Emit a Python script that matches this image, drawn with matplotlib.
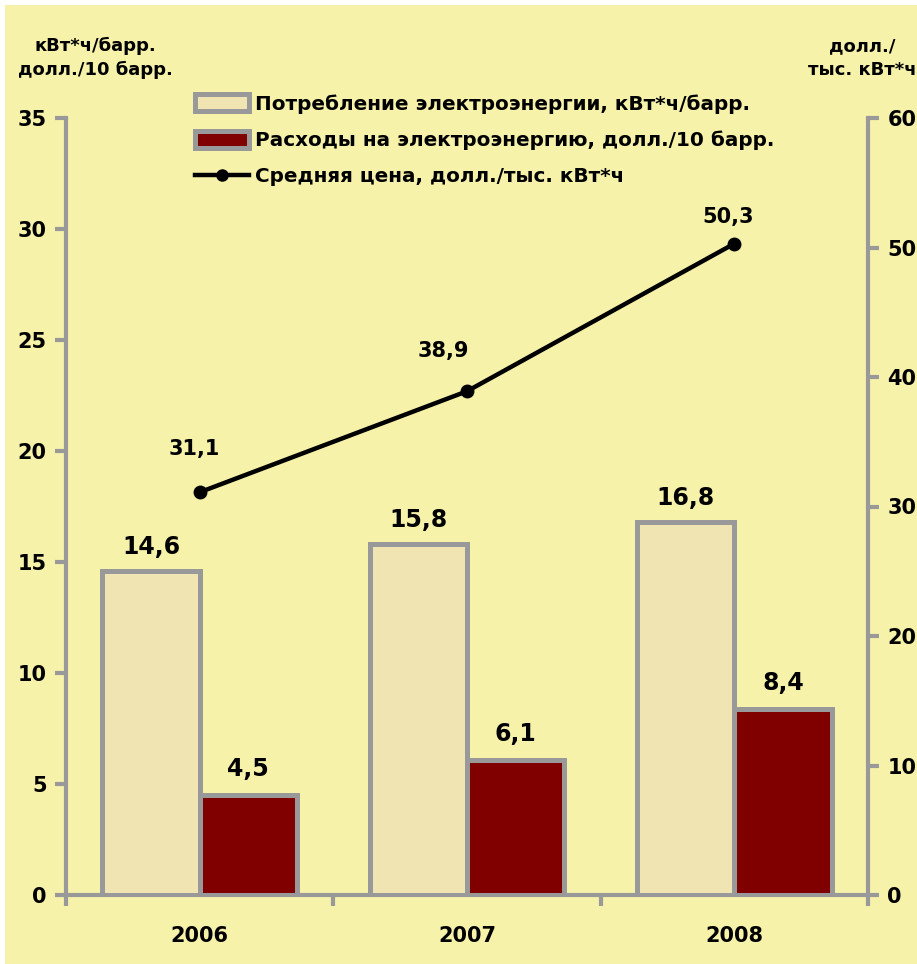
import numpy as np
import matplotlib
matplotlib.use('Agg')
import matplotlib.pyplot as plt
from matplotlib.patches import Rectangle, Patch
from matplotlib.lines import Line2D

years = ['2006', '2007', '2008']
consumption = [14.6, 15.8, 16.8]   # кВт*ч/барр.
costs = [4.5, 6.1, 8.4]            # долл./10 барр.
price = [31.1, 38.9, 50.3]         # долл./тыс. кВт*ч

consumption_labels = ['14,6', '15,8', '16,8']
costs_labels = ['4,5', '6,1', '8,4']
price_labels = ['31,1', '38,9', '50,3']

bg = '#F7F2AA'
beige = '#F0E4B2'
darkred = '#800000'
grey = '#999999'

plt.rcParams['font.family'] = ['DejaVu Sans']
plt.rcParams['font.weight'] = 'bold'

fig = plt.figure(figsize=(9.17, 9.64), dpi=100)
fig.patch.set_facecolor(bg)
# thin white strip at top and left like the original screenshot
fig.patches.append(Rectangle((0, 1 - 5 / 964), 1, 5 / 964, transform=fig.transFigure,
                             facecolor='white', edgecolor='none', zorder=-1))
fig.patches.append(Rectangle((0, 0), 5 / 917, 1, transform=fig.transFigure,
                             facecolor='white', edgecolor='none', zorder=-1))

ax = fig.add_axes([66 / 917, 69 / 964, 802 / 917, 777 / 964])
ax.set_facecolor('none')
ax2 = ax.twinx()
ax2.set_facecolor('none')

x = np.arange(len(years))
w = 0.364
ax.bar(x - w / 2, consumption, w, color=beige, edgecolor=grey, linewidth=3.6, zorder=3)
ax.bar(x + w / 2, costs, w, color=darkred, edgecolor=grey, linewidth=3.6, zorder=3)

for i in range(len(years)):
    ax.annotate(consumption_labels[i], (x[i] - w / 2, consumption[i]), xytext=(0, 24),
                textcoords='offset pixels', ha='center', va='center', fontsize=17, fontweight='bold')
    ax.annotate(costs_labels[i], (x[i] + w / 2, costs[i]), xytext=(0, 26),
                textcoords='offset pixels', ha='center', va='center', fontsize=17, fontweight='bold')

ax2.plot(x, price, color='black', linewidth=3.2, marker='o', markersize=9, zorder=5)
offsets = [(-5, 43), (-24, 40), (-6, 27)]
for i in range(len(years)):
    ax2.annotate(price_labels[i], (x[i], price[i]), xytext=offsets[i],
                 textcoords='offset pixels', ha='center', va='center', fontsize=15, fontweight='bold')

ax.set_xlim(-0.5, 2.5)
ax.set_ylim(0, 35)
ax.set_yticks(np.arange(0, 36, 5))
ax2.set_ylim(0, 60)
ax2.set_yticks(np.arange(0, 61, 10))

ax.set_xticks([-0.5, 0.5, 1.5, 2.5])
ax.set_xticklabels([])
ax.set_xticks(x, minor=True)
ax.set_xticklabels(years, minor=True)
ax.tick_params(axis='x', which='minor', length=0, pad=22, labelsize=15)
ax.tick_params(axis='x', which='major', length=8, width=3, color=grey, direction='out')
ax.tick_params(axis='y', length=8, width=3, color=grey, labelsize=15, pad=6)
ax2.tick_params(axis='y', length=8, width=3, color=grey, labelsize=15, pad=6)

for a in (ax, ax2):
    for s in a.spines.values():
        s.set_color(grey)
        s.set_linewidth(3)
    a.spines['top'].set_visible(False)
ax.spines['right'].set_visible(False)
ax2.spines['left'].set_visible(False)
ax2.spines['bottom'].set_visible(False)

fig.text(95 / 917, 1 - 58 / 964, 'кВт*ч/барр.\nдолл./10 барр.', ha='center', va='center',
         fontsize=13, fontweight='bold', linespacing=1.4)
fig.text(862 / 917, 1 - 58 / 964, 'долл./\nтыс. кВт*ч', ha='center', va='center',
         fontsize=13, fontweight='bold', linespacing=1.4)

handles = [
    Patch(facecolor=beige, edgecolor=grey, linewidth=3.6),
    Patch(facecolor=darkred, edgecolor=grey, linewidth=3.6),
    Line2D([0], [0], color='black', linewidth=3.2, marker='o', markersize=8),
]
labels = ['Потребление электроэнергии, кВт*ч/барр.',
          'Расходы на электроэнергию, долл./10 барр.',
          'Средняя цена, долл./тыс. кВт*ч']
fig.legend(handles, labels, loc='upper left', bbox_to_anchor=(195 / 917, 1 - 94 / 964),
           frameon=False, fontsize=14.4, handlelength=2.7, handleheight=0.9,
           handletextpad=0.3, labelspacing=0.85, borderaxespad=0, borderpad=0)

fig.savefig('out.png', dpi=100, facecolor=fig.get_facecolor())
